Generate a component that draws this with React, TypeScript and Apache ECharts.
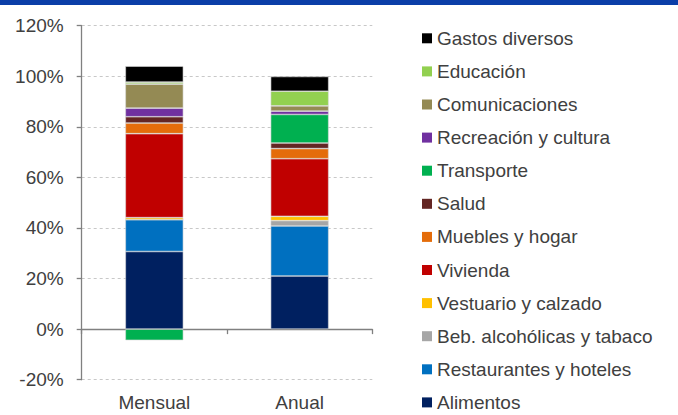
import React, { useEffect, useRef } from "react";
import * as echarts from "echarts";

const categories = ["Mensual", "Anual"];

const seriesNames = [
  "Alimentos",
  "Restaurantes y hoteles",
  "Beb. alcohólicas y tabaco",
  "Vestuario y calzado",
  "Vivienda",
  "Muebles y hogar",
  "Salud",
  "Transporte",
  "Recreación y cultura",
  "Comunicaciones",
  "Educación",
  "Gastos diversos",
];

const alimentos = [30.7, 21.0];
const restaurantes = [12.6, 19.8];
const bebidas = [0.0, 2.1];
const vestuario = [0.8, 1.7];
const vivienda = [33.2, 22.8];
const muebles = [4.2, 4.0];
const salud = [2.5, 2.2];
const transporte = [-4.4, 11.3];
const recreacion = [3.4, 1.3];
const comunicaciones = [9.5, 2.1];
const educacion = [0.8, 5.8];
const gastos = [6.3, 5.8];

const seriesValues = [
  alimentos,
  restaurantes,
  bebidas,
  vestuario,
  vivienda,
  muebles,
  salud,
  transporte,
  recreacion,
  comunicaciones,
  educacion,
  gastos,
];

const colors = [
  "#002060",
  "#0070C0",
  "#A6A6A6",
  "#FFC000",
  "#C00000",
  "#E46C0A",
  "#632523",
  "#00B050",
  "#7030A0",
  "#948A54",
  "#92D050",
  "#000000",
];

const yMin = -20;
const yMax = 120;
const yInterval = 20;

export default function App() {
  const ref = useRef<HTMLDivElement>(null);

  useEffect(() => {
    if (!ref.current) return;
    const chart = echarts.init(ref.current, null, { renderer: "svg" });
    const textColor = "#404040";
    const font = "'Liberation Sans', Arial, sans-serif";

    const series = seriesNames.map((name, i) => ({
      name,
      type: "bar",
      stack: "total",
      xAxisIndex: 0,
      barWidth: 58,
      itemStyle: {
        color: colors[i],
        borderColor: "#d9d9d9",
        borderWidth: 0.6,
      },
      data: seriesValues[i],
    }));

    chart.setOption({
      animation: false,
      textStyle: { fontFamily: font },
      graphic: [
        {
          type: "rect",
          left: 0,
          top: 0,
          shape: { x: 0, y: 0, width: 678, height: 5 },
          style: { fill: "#0B3EA8" },
        },
      ],
      grid: {
        left: 81.7,
        right: 305.7,
        top: 25.7,
        bottom: 35.3,
        containLabel: false,
      },
      legend: {
        orient: "vertical",
        left: 422,
        top: 28.3,
        height: 400,
        padding: 0,
        itemWidth: 10,
        itemHeight: 10,
        itemGap: 13.1,
        icon: "rect",
        itemStyle: { borderWidth: 0 },
        data: [...seriesNames].reverse(),
        textStyle: {
          fontSize: 19,
          color: textColor,
          fontFamily: font,
          lineHeight: 20,
        },
      },
      xAxis: [
        {
          type: "category",
          data: categories,
          axisLine: { onZero: true, lineStyle: { color: "#808080", width: 1.3 } },
          axisTick: {
            show: true,
            length: 5,
            alignWithLabel: false,
            interval: 0,
            lineStyle: { color: "#808080", width: 1.3 },
          },
          axisLabel: { show: false },
          splitLine: { show: false },
        },
        {
          type: "category",
          data: categories,
          position: "bottom",
          axisLine: { show: false, onZero: false },
          axisTick: { show: false },
          axisLabel: {
            show: true,
            fontSize: 19,
            color: textColor,
            fontFamily: font,
            margin: 13,
          },
          splitLine: { show: false },
        },
      ],
      yAxis: {
        type: "value",
        min: yMin,
        max: yMax,
        interval: yInterval,
        axisLine: { show: true, lineStyle: { color: "#808080", width: 1.3 } },
        axisTick: {
          show: true,
          length: 5,
          lineStyle: { color: "#808080", width: 1.3 },
        },
        axisLabel: {
          fontSize: 19,
          color: textColor,
          fontFamily: font,
          margin: 18,
          formatter: (v: number) => `${v}%`,
        },
        splitLine: {
          show: true,
          lineStyle: { color: "#c8c8c8", type: [3, 3], width: 1 },
        },
      },
      series,
    });

    return () => {
      chart.dispose();
    };
  }, []);

  return (
    <div
      ref={ref}
      style={{ position: "absolute", left: 0, top: 0, width: 678, height: 415 }}
    />
  );
}
